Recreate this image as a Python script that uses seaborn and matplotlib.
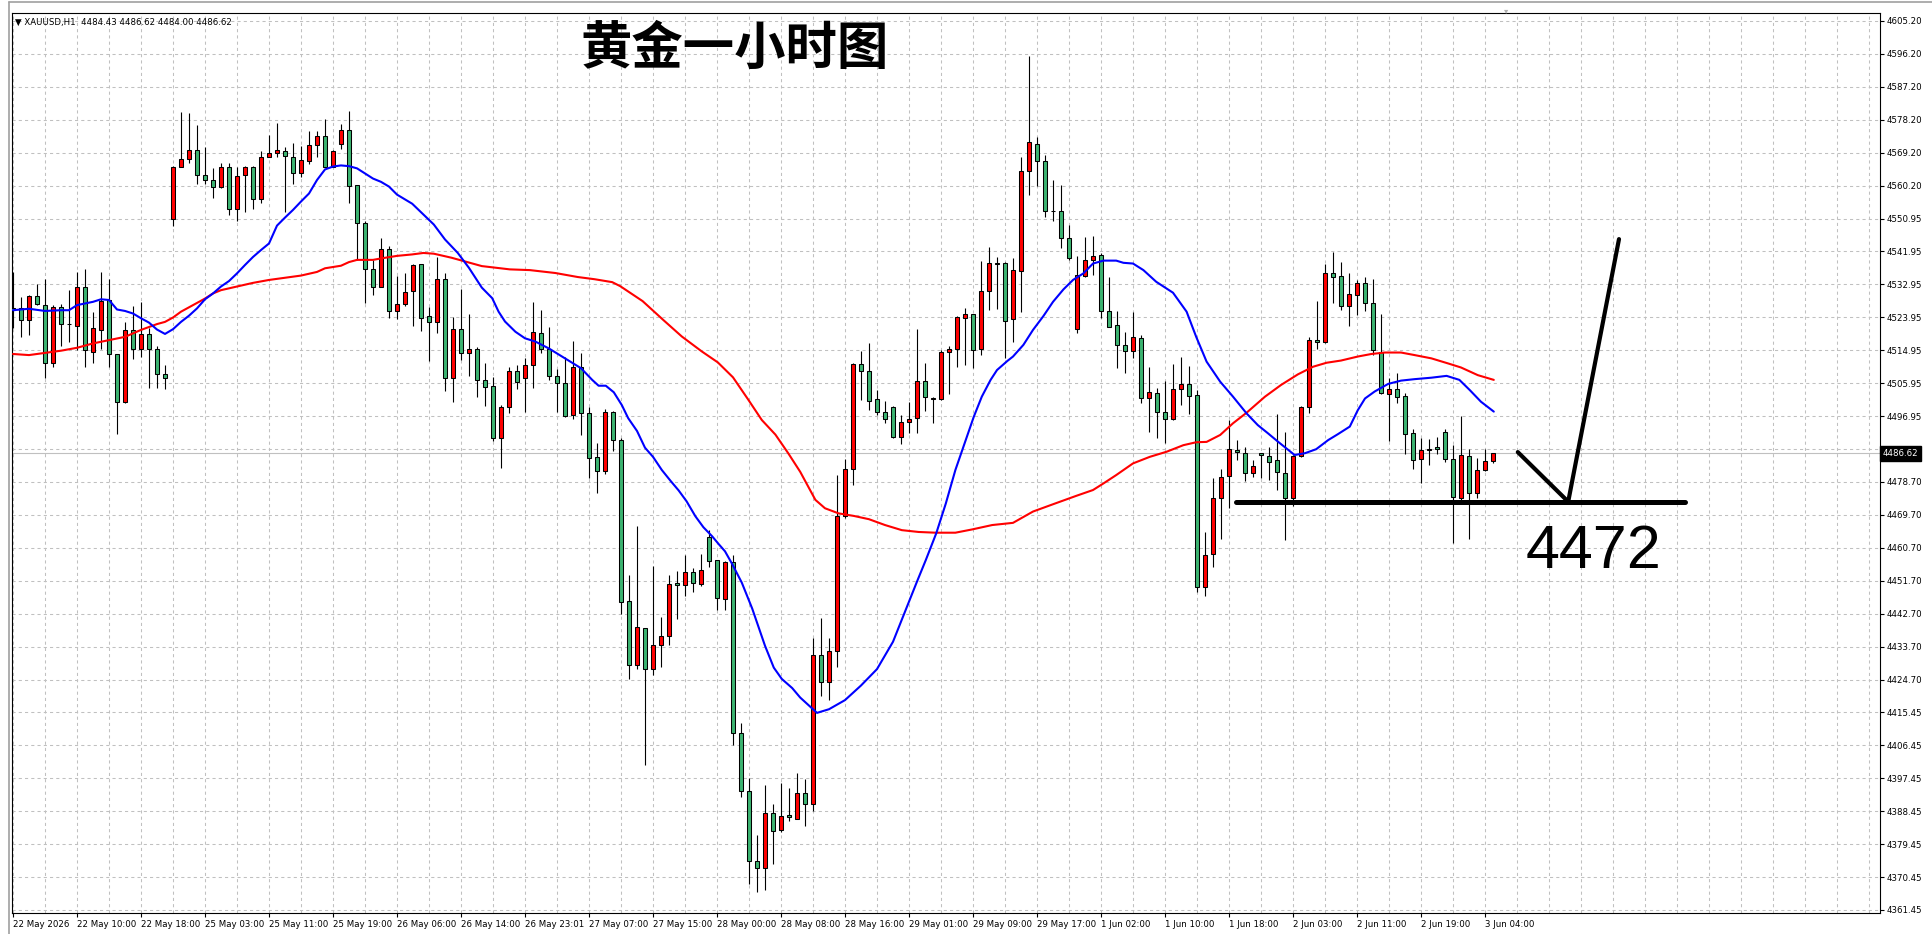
import numpy as np
import pandas as pd
import matplotlib
matplotlib.use("Agg")
import matplotlib.pyplot as plt
import matplotlib.transforms as mtrans
from matplotlib.lines import Line2D
import seaborn as sns

# ---------------- data (XAUUSD H1) ----------------
opens = [4526.4, 4526.4, 4523.2, 4529.8, 4527.2, 4511.3, 4526.9, 4522.0, 4521.7, 4532.4,
         4514.5, 4520.6, 4528.6, 4513.8, 4500.6, 4520.4, 4515.2, 4519.3, 4515.2, 4508.3,
         4550.8, 4565.3, 4567.3, 4569.7, 4562.9, 4561.5, 4559.8, 4565.1, 4553.6, 4562.9,
         4565.1, 4556.3, 4567.8, 4568.9, 4569.5, 4567.8, 4563.4, 4566.7, 4571.1, 4573.8,
         4565.3, 4571.4, 4575.2, 4560.1, 4549.7, 4537.1, 4532.4, 4542.6, 4525.6, 4527.5,
         4531.1, 4538.5, 4524.3, 4522.8, 4534.4, 4507.2, 4520.7, 4514.3, 4515.4, 4506.8,
         4505.0, 4491.0, 4499.5, 4509.2, 4507.2, 4511.0, 4519.6, 4515.4, 4507.9, 4505.9,
         4497.3, 4510.2, 4497.6, 4485.6, 4481.8, 4497.9, 4490.2, 4446.1, 4428.6, 4438.7,
         4427.5, 4434.0, 4436.5, 4451.1, 4450.5, 4454.2, 4450.7, 4463.7, 4457.3, 4446.8,
         4457.0, 4409.9, 4394.2, 4374.8, 4372.9, 4388.1, 4383.4, 4387.6, 4386.5, 4393.4,
         4390.5, 4431.5, 4424.0, 4432.5, 4469.5, 4482.5, 4511.1, 4509.1, 4501.5, 4498.1,
         4499.5, 4491.2, 4495.2, 4496.3, 4506.6, 4501.6, 4501.5, 4514.4, 4515.2, 4523.7,
         4524.8, 4515.2, 4531.3, 4538.8, 4538.8, 4523.4, 4536.7, 4564.2, 4571.5, 4566.9,
         4553.2, 4553.2, 4545.6, 4520.7, 4535.4, 4539.8, 4541.0, 4525.7, 4521.8, 4516.5,
         4514.6, 4518.2, 4501.7, 4503.1, 4498.1, 4496.0, 4504.2, 4505.8, 4502.6, 4449.9,
         4459.1, 4474.3, 4480.5, 4487.6, 4486.7, 4481.2, 4486.7, 4485.9, 4484.8, 4481.4,
         4474.3, 4486.0, 4499.5, 4517.7, 4517.1, 4536.0, 4535.4, 4527.1, 4530.1, 4533.3,
         4527.8, 4514.5, 4502.8, 4504.2, 4502.4, 4492.1, 4485.0, 4487.7, 4488.3, 4492.4,
         4485.0, 4474.3, 4486.0, 4475.7, 4482.1, 4484.43]
highs = [4536.5, 4529.6, 4530.1, 4533.1, 4534.4, 4527.2, 4527.5, 4531.4, 4536.4, 4537.2,
         4525.5, 4536.3, 4534.4, 4514.0, 4522.6, 4527.0, 4528.2, 4520.9, 4516.1, 4510.9,
         4565.5, 4580.2, 4579.9, 4576.7, 4570.6, 4564.8, 4566.2, 4566.2, 4565.1, 4565.5,
         4565.4, 4569.5, 4573.9, 4577.1, 4570.6, 4571.7, 4570.9, 4575.0, 4575.0, 4578.2,
         4569.7, 4576.9, 4580.5, 4560.3, 4550.3, 4539.7, 4545.6, 4543.6, 4535.2, 4536.1,
         4538.7, 4538.7, 4526.9, 4540.5, 4536.1, 4524.1, 4531.6, 4525.0, 4515.9, 4511.3,
         4507.7, 4499.8, 4510.2, 4510.9, 4512.7, 4528.1, 4525.9, 4521.4, 4509.8, 4513.0,
         4517.5, 4514.1, 4499.3, 4489.4, 4498.7, 4498.2, 4490.8, 4453.4, 4466.7, 4438.9,
         4455.9, 4441.9, 4453.4, 4454.4, 4458.7, 4455.1, 4459.1, 4465.6, 4457.5, 4457.2,
         4458.8, 4412.6, 4397.7, 4382.0, 4395.7, 4390.5, 4396.2, 4394.9, 4398.9, 4397.5,
         4436.0, 4441.5, 4436.0, 4480.7, 4485.0, 4511.4, 4514.7, 4517.0, 4504.0, 4501.0,
         4499.6, 4497.2, 4500.6, 4520.7, 4511.3, 4502.0, 4515.0, 4516.1, 4524.3, 4526.4,
         4525.0, 4539.5, 4543.3, 4540.6, 4539.0, 4540.2, 4568.0, 4595.5, 4573.5, 4568.5,
         4561.7, 4560.2, 4549.2, 4540.8, 4545.9, 4546.2, 4541.5, 4535.1, 4525.8, 4519.8,
         4525.5, 4519.1, 4510.4, 4504.5, 4506.5, 4511.1, 4513.2, 4510.6, 4504.0, 4465.2,
         4480.0, 4482.4, 4495.8, 4490.3, 4488.5, 4484.8, 4486.8, 4488.3, 4497.4, 4492.6,
         4486.1, 4499.6, 4518.5, 4528.4, 4538.6, 4541.8, 4539.2, 4536.0, 4534.2, 4534.9,
         4534.4, 4524.8, 4507.2, 4508.6, 4503.3, 4493.3, 4491.0, 4490.5, 4491.2, 4493.2,
         4488.9, 4497.0, 4487.8, 4485.3, 4487.8, 4486.62]
lows = [4520.9, 4518.6, 4519.1, 4527.3, 4507.4, 4510.2, 4516.2, 4517.3, 4515.0, 4510.2,
        4511.5, 4515.2, 4510.4, 4491.9, 4500.4, 4512.4, 4513.2, 4504.5, 4504.5, 4504.2,
        4549.1, 4565.1, 4566.4, 4560.4, 4560.4, 4556.8, 4559.5, 4552.1, 4550.5, 4552.7,
        4553.6, 4555.2, 4567.8, 4567.8, 4552.9, 4560.4, 4562.5, 4565.9, 4568.0, 4565.1,
        4565.1, 4570.0, 4555.2, 4539.7, 4528.0, 4530.1, 4532.2, 4523.7, 4523.4, 4527.1,
        4521.7, 4520.3, 4511.9, 4519.6, 4503.8, 4500.8, 4512.2, 4507.9, 4502.2, 4499.6,
        4490.1, 4482.7, 4497.8, 4504.2, 4498.1, 4504.5, 4514.3, 4506.8, 4498.1, 4496.7,
        4496.0, 4491.7, 4480.0, 4475.7, 4481.1, 4487.2, 4442.6, 4424.8, 4427.4, 4401.3,
        4425.8, 4428.2, 4434.2, 4441.2, 4447.6, 4448.7, 4450.2, 4455.5, 4443.8, 4443.8,
        4406.8, 4392.4, 4368.5, 4366.5, 4367.0, 4374.1, 4382.7, 4385.8, 4386.3, 4384.5,
        4388.5, 4420.0, 4419.0, 4428.0, 4468.8, 4478.0, 4501.3, 4498.5, 4497.2, 4494.9,
        4491.0, 4489.1, 4492.1, 4492.3, 4498.4, 4494.9, 4501.3, 4502.8, 4510.2, 4510.9,
        4510.0, 4513.6, 4526.0, 4526.1, 4512.8, 4517.3, 4525.5, 4557.6, 4559.9, 4551.5,
        4550.5, 4543.0, 4539.7, 4519.7, 4535.1, 4535.6, 4523.9, 4521.2, 4510.0, 4508.8,
        4512.9, 4500.4, 4492.6, 4490.8, 4489.4, 4495.8, 4499.9, 4497.4, 4448.7, 4447.5,
        4455.6, 4463.3, 4471.6, 4484.8, 4479.2, 4480.3, 4479.8, 4479.3, 4476.6, 4462.9,
        4472.2, 4485.7, 4497.8, 4515.3, 4517.0, 4528.0, 4526.0, 4521.7, 4524.6, 4525.8,
        4513.6, 4502.9, 4490.1, 4500.4, 4486.4, 4482.3, 4478.6, 4483.5, 4486.4, 4484.2,
        4462.2, 4473.9, 4463.3, 4474.3, 4481.9, 4484.00]
closes = [4526.0, 4523.2, 4529.8, 4527.5, 4511.3, 4526.9, 4522.0, 4522.0, 4532.4, 4515.0,
          4520.9, 4528.4, 4513.8, 4500.6, 4520.4, 4515.2, 4519.3, 4515.4, 4508.3, 4507.2,
          4565.3, 4567.3, 4569.7, 4563.0, 4561.5, 4559.8, 4565.1, 4553.6, 4562.6, 4565.1,
          4556.3, 4567.8, 4568.9, 4569.7, 4568.1, 4563.4, 4567.0, 4571.1, 4573.8, 4565.3,
          4569.5, 4575.2, 4559.9, 4549.7, 4537.1, 4532.4, 4542.6, 4525.6, 4527.5, 4531.0,
          4538.3, 4523.9, 4522.8, 4534.4, 4507.2, 4520.7, 4514.1, 4515.4, 4506.8, 4504.9,
          4491.0, 4499.5, 4509.2, 4506.3, 4511.0, 4519.8, 4515.2, 4507.9, 4505.9, 4497.0,
          4510.2, 4497.6, 4485.3, 4481.9, 4497.9, 4490.2, 4445.8, 4428.6, 4439.0, 4427.5,
          4434.0, 4436.5, 4450.7, 4450.5, 4454.2, 4451.0, 4454.8, 4457.2, 4447.1, 4457.0,
          4409.9, 4394.2, 4374.8, 4372.9, 4388.0, 4383.2, 4387.3, 4387.0, 4393.4, 4390.5,
          4431.5, 4424.0, 4432.5, 4469.5, 4482.3, 4511.1, 4509.1, 4501.1, 4498.1, 4496.0,
          4491.2, 4495.2, 4496.1, 4506.6, 4502.0, 4501.7, 4514.4, 4515.2, 4524.0, 4524.8,
          4515.0, 4531.3, 4538.8, 4538.6, 4523.0, 4537.0, 4564.2, 4572.0, 4566.7, 4553.2,
          4553.0, 4545.7, 4540.1, 4535.6, 4539.8, 4540.8, 4525.7, 4521.4, 4516.5, 4514.6,
          4518.5, 4501.7, 4503.4, 4498.1, 4496.0, 4504.2, 4505.8, 4502.4, 4450.1, 4458.8,
          4474.3, 4480.1, 4487.8, 4486.9, 4481.2, 4483.2, 4486.1, 4484.4, 4481.6, 4474.3,
          4486.0, 4499.5, 4517.6, 4517.1, 4536.0, 4535.1, 4527.1, 4530.3, 4533.3, 4527.8,
          4515.0, 4503.1, 4504.2, 4502.2, 4491.9, 4484.8, 4487.6, 4487.8, 4487.8, 4485.0,
          4474.6, 4486.2, 4475.7, 4482.1, 4484.6, 4486.62]

# fast moving average (blue), read as (bar, price)
blue_x = [0, 2, 4, 6, 7, 8, 10, 11, 12, 13, 14, 15, 16, 17, 18, 19, 20, 21, 22, 23, 24, 25, 26, 27,
          28, 29, 30, 31, 32, 33, 34, 35, 36, 37, 38, 39, 40, 41, 42, 43, 44, 45, 46, 47, 48,
          49.9, 52.6, 54, 55.6, 57, 58.6, 59.9, 60.7, 61.5, 62.8, 64, 65.3, 67, 69, 71, 72.4,
          73.2, 74.1, 75.1, 76.1, 76.9, 78, 79, 80, 81.1, 82.2, 83.2, 84.2, 85.3, 86.3, 87.4,
          88.2, 89, 89.9, 91.1, 92.4, 93.2, 94, 95.1, 96.1, 97.4, 98.4, 100.5, 102, 104, 106,
          108, 110, 112, 113, 114.1, 115.4, 116.6, 117.8, 119.1, 120.1, 121.1, 122.2, 123,
          124.3, 125, 126.3, 127.5, 128.8, 130, 131.3, 132.5, 133.8, 135, 136.3, 137.9, 138.8,
          140, 141.3, 142.9, 145, 146.7, 147.9, 149.2, 150.9, 152.5, 154.2, 155.6, 156.9,
          158.1, 159.4, 160.2, 161.5, 162.9, 164.4, 165.6, 167.1, 168.1, 169, 170.2, 171.9,
          173.5, 175.2, 177.3, 179.2, 180.8, 182.1, 183.5, 185.1]
blue_y = [4525.9, 4526.3, 4525.7, 4525.9, 4525.9, 4527.3, 4528.2, 4528.9, 4528.7, 4526.1, 4525.7,
          4525.0, 4523.7, 4522.5, 4520.6, 4519.4, 4520.7, 4522.7, 4524.4, 4526.4, 4528.9, 4530.5,
          4532.4, 4533.9, 4536.0, 4538.3, 4540.5, 4542.4, 4544.2, 4549.1, 4551.3, 4553.4, 4555.7,
          4557.9, 4561.6, 4564.5, 4565.3, 4565.6, 4565.4, 4564.8, 4563.4, 4562.0, 4561.1, 4559.8,
          4557.6, 4555.1, 4549.4, 4545.3, 4541.6, 4537.5, 4532.1, 4529.2, 4525.5, 4522.8, 4520.0,
          4518.2, 4517.3, 4515.4, 4512.7, 4510.0, 4506.8, 4505.2, 4505.2, 4503.4, 4499.9, 4496.3,
          4492.8, 4488.2, 4485.7, 4482.1, 4479.1, 4476.5, 4473.5, 4469.4, 4466.4, 4463.9, 4461.8,
          4459.8, 4456.3, 4451.2, 4444.1, 4439.0, 4433.9, 4427.9, 4424.8, 4422.3, 4419.7, 4415.5,
          4416.5, 4419.0, 4423.0, 4427.5, 4435.0, 4446.0, 4451.5, 4457.4, 4464.7, 4472.9, 4482.1,
          4490.3, 4496.7, 4502.2, 4506.8, 4509.5, 4512.0, 4513.2, 4516.4, 4520.5, 4524.3, 4528.2,
          4531.6, 4534.2, 4536.0, 4538.7, 4539.5, 4539.5, 4538.9, 4538.7, 4536.9, 4533.7, 4530.7,
          4525.5, 4518.6, 4511.8, 4506.3, 4502.2, 4497.6, 4494.4, 4492.1, 4489.9, 4487.6, 4486.2,
          4486.7, 4487.8, 4490.3, 4491.9, 4494.0, 4498.5, 4501.7, 4503.6, 4505.7, 4506.6, 4507.0,
          4507.4, 4507.9, 4506.8, 4504.0, 4500.8, 4498.1]

# slow moving average (red), read as (bar, price)
red_x = [0, 2, 4, 6, 8, 10, 12, 14, 16, 18, 19, 20, 21, 22, 23, 24, 25, 26, 28, 30, 32, 34, 36,
         38, 39, 41, 42, 43, 45, 46, 48, 49.9, 51.3, 52.6, 54.8, 58.6, 62.1, 64.6, 67.8, 70.6,
         72.7, 74.9, 75.9, 78.7, 81.3, 83.6, 86.1, 88.1, 90, 91.9, 93.6, 95.3, 96.9, 98.4,
         100.3, 101.5, 103.2, 105.1, 107, 109, 111.1, 113.2, 115.3, 117.8, 119.9, 122.4, 125,
         127.5, 130, 132.9, 135, 136.3, 137.9, 140, 142.1, 144.2, 146.3, 147.9, 149.2, 150.9,
         152.5, 154.2, 156.5, 158.5, 160.6, 162.5, 164.2, 166, 168.1, 169.8, 171.5, 173.5,
         175.2, 177.3, 179.4, 181, 183.1, 185.1]
red_y = [4513.9, 4513.6, 4514.2, 4514.8, 4515.6, 4516.8, 4517.7, 4518.6, 4520.5, 4522.1, 4522.7,
         4523.9, 4525.5, 4526.7, 4527.9, 4529.1, 4530.5, 4531.4, 4532.4, 4533.4, 4534.2, 4534.8,
         4535.4, 4536.4, 4537.4, 4538.1, 4539.1, 4539.7, 4539.7, 4540.1, 4540.8, 4541.2, 4541.6,
         4541.4, 4540.3, 4538.0, 4537.1, 4536.9, 4536.1, 4535.0, 4534.4, 4533.6, 4532.5, 4528.4,
         4523.2, 4518.7, 4514.6, 4511.6, 4507.5, 4501.4, 4495.8, 4491.8, 4486.7, 4481.6, 4473.9,
         4471.6, 4470.2, 4469.5, 4468.6, 4467.0, 4465.6, 4465.1, 4464.9, 4464.9, 4465.8, 4467.0,
         4467.6, 4470.7, 4472.7, 4475.0, 4476.6, 4478.4, 4480.7, 4483.9, 4485.7, 4487.1, 4488.9,
         4489.7, 4489.8, 4491.7, 4494.9, 4497.8, 4502.2, 4505.4, 4508.3, 4510.4, 4511.5, 4512.1,
         4513.2, 4513.9, 4514.3, 4514.3, 4513.6, 4512.7, 4511.3, 4510.2, 4508.1, 4506.8]

date_labels = ['22 May 2026', '22 May 10:00', '22 May 18:00', '25 May 03:00', '25 May 11:00',
               '25 May 19:00', '26 May 06:00', '26 May 14:00', '26 May 23:01', '27 May 07:00',
               '27 May 15:00', '28 May 00:00', '28 May 08:00', '28 May 16:00', '29 May 01:00',
               '29 May 09:00', '29 May 17:00', '1 Jun 02:00', '1 Jun 10:00', '1 Jun 18:00',
               '2 Jun 03:00', '2 Jun 11:00', '2 Jun 19:00', '3 Jun 04:00']
price_labels = ['4605.20', '4596.20', '4587.20', '4578.20', '4569.20', '4560.20', '4550.95',
                '4541.95', '4532.95', '4523.95', '4514.95', '4505.95', '4496.95', '4487.95',
                '4478.70', '4469.70', '4460.70', '4451.70', '4442.70', '4433.70', '4424.70',
                '4415.45', '4406.45', '4397.45', '4388.45', '4379.45', '4370.45', '4361.45']
price_top, price_bottom = 4605.20, 4361.45
last_price = 4486.62
header = '\u25BC XAUUSD,H1  4484.43 4486.62 4484.00 4486.62'
title = '黄金一小时图'

# hand-drawn annotation (bar index, price)
support_x = [152.9, 209.0]
support_y = [4473.4, 4473.4]
path_x = [188.1, 194.4, 200.75]
path_y = [4487.0, 4473.4, 4545.4]
target_text = '4472'
target_pos = (197.6, 4455.2)

# ---------------- figure ----------------
sns.set_style("white")
plt.rcParams['font.family'] = ['DejaVu Sans']

W, H = 1932, 934
fig = plt.figure(figsize=(W / 100, H / 100), dpi=100)
fig.patch.set_facecolor('white')
L, R, T, B = 12, 1880, 13, 913
ax = fig.add_axes([L / W, (H - B) / H, (R - L) / W, (B - T) / H])
ax.set_facecolor('white')

px_per_price = 889.0 / (price_top - price_bottom)
ax.set_xlim((L - 13) / 8.0, (R - 13) / 8.0)
ax.set_ylim(price_top - (B - 21) / px_per_price, price_top + (21 - T) / px_per_price)

n = len(price_labels)
price_ticks = [price_top - i * (price_top - price_bottom) / (n - 1) for i in range(n)]
tick_bars = list(range(0, 8 * len(date_labels), 8))

grid_kw = dict(color='#C0C0C0', lw=0.75, ls=(0, (3, 3)), zorder=0)
for p in price_ticks:
    ax.axhline(p, **grid_kw)
for vb in np.arange(0, ax.get_xlim()[1], 4):
    ax.axvline(vb, **grid_kw)
ax.axhline(last_price, color='#C0C0C0', lw=0.8, zorder=0.5)

df = pd.DataFrame({'bar': np.arange(len(opens)), 'open': opens, 'high': highs,
                   'low': lows, 'close': closes})
up = df['close'] >= df['open']
body_low = np.minimum(df['open'], df['close'])
body_h = np.maximum((df['close'] - df['open']).abs(), 0.12)
ax.vlines(df['bar'], df['low'], df['high'], color='black', lw=0.8, zorder=2)
ax.bar(df['bar'], body_h, bottom=body_low, width=0.56,
       color=np.where(up, '#FF0000', '#3CB371'), edgecolor='black', linewidth=0.75, zorder=3)

ma_fast = pd.DataFrame({'bar': blue_x, 'price': blue_y})
ma_slow = pd.DataFrame({'bar': red_x, 'price': red_y})
sns.lineplot(data=ma_slow, x='bar', y='price', color='#FF0000', lw=1.5, ax=ax, zorder=4)
sns.lineplot(data=ma_fast, x='bar', y='price', color='#0000FF', lw=1.5, ax=ax, zorder=4)
ax.set_xlabel('')
ax.set_ylabel('')

# axes / ticks
for s in ax.spines.values():
    s.set_visible(True)
    s.set_color('black')
    s.set_linewidth(0.8)
ax.yaxis.tick_right()
ax.set_yticks(price_ticks)
ax.set_yticklabels(price_labels)
ax.set_xticks(tick_bars)
ax.set_xticklabels(date_labels, ha='left')
ax.tick_params(axis='y', which='both', right=True, left=False, length=3, width=0.8,
               pad=2, labelsize=6.2, colors='black', direction='out')
ax.tick_params(axis='x', which='both', bottom=True, top=False, length=3, width=0.8,
               pad=2, labelsize=6.2, colors='black', direction='out')
for lab in ax.get_xticklabels():
    lab.set_horizontalalignment('left')

# current price tag
blend = mtrans.blended_transform_factory(ax.transAxes, ax.transData)
ax.text(1.0 + 3 / (R - L), last_price, f'{last_price:.2f}', transform=blend, color='white',
        fontsize=6.2, ha='left', va='center', clip_on=False, zorder=10,
        bbox=dict(boxstyle='square,pad=0.3', fc='black', ec='black'))

# hand-drawn annotation
ax.plot(support_x, support_y, color='black', lw=3.6, solid_capstyle='round', zorder=6)
ax.plot(path_x, path_y, color='black', lw=3.0, solid_capstyle='round',
        solid_joinstyle='round', zorder=6)
ax.text(target_pos[0], target_pos[1], target_text, fontsize=44, family=['Liberation Sans'],
        ha='center', va='baseline', color='black', zorder=7)

# header & title
fig.text(15 / W, 1 - 24.5 / H, header, fontsize=6.2, ha='left', va='baseline', color='black')
fig.text(734.5 / W, 1 - 64 / H, title, fontsize=37, family=['Noto Sans CJK SC', 'DejaVu Sans'],
         weight='bold', ha='center', va='baseline', color='black')
fig.text(1506 / W, 1 - 11 / H, '\u25BE', fontsize=6, ha='center', va='center', color='#B0B0B0')

# window frame
fig.add_artist(Line2D([8.5 / W, 8.5 / W], [0, 1 - 1.5 / H], color='#A0A0A0', lw=1.2))
fig.add_artist(Line2D([8.5 / W, 1], [1 - 1.5 / H, 1 - 1.5 / H], color='#A0A0A0', lw=1.2))

fig.savefig('out.png', dpi=100)
